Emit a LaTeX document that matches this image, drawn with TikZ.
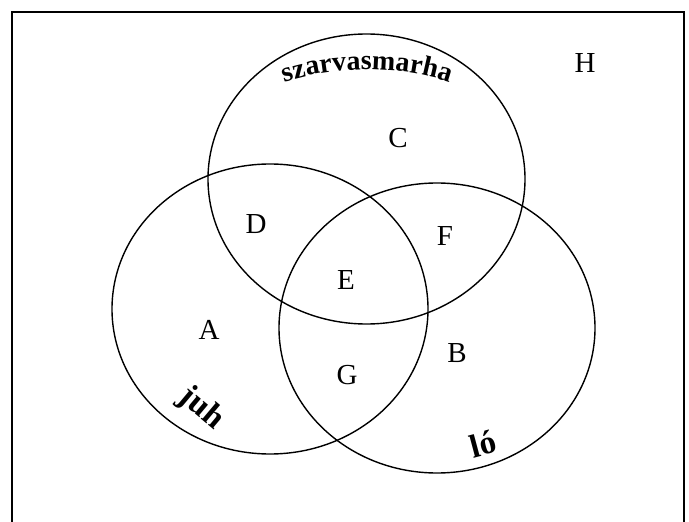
\documentclass[tikz,border=0pt]{standalone}
\usepackage{fontspec}
\setmainfont{Liberation Serif}
\usetikzlibrary{decorations.text}

\begin{document}
\begin{tikzpicture}[
  x=1pt, y=-1pt,
  frame/.style={line width=1.7pt},
  set/.style={line width=1.4pt},
  region/.style={inner sep=0pt, font=\fontsize{29}{29}\selectfont},
  setname/.style={inner sep=0pt, font=\fontsize{33}{33}\selectfont\bfseries}
]
  \useasboundingbox (0,0) rectangle (689,522);
  \draw[frame] (12,522) -- (12,12) -- (684,12) -- (684,522);
  \draw[set] (366.5,179) ellipse [x radius=158.5pt, y radius=145pt];
  \draw[set] (270,309)   ellipse [x radius=158pt, y radius=145pt];
  \draw[set] (437,328)   ellipse [x radius=158pt, y radius=145pt];
  \node[region] (h) at (585,63)  {H};
  \node[region] (c) at (398,138) {C};
  \node[region] (d) at (256,224) {D};
  \node[region] (f) at (445,236) {F};
  \node[region] (e) at (346,280) {E};
  \node[region] (a) at (209,330) {A};
  \node[region] (b) at (457,353) {B};
  \node[region] (g) at (347,375) {G};
  \path[decorate, decoration={text along path, text align=center,
    text={|\fontsize{28}{28}\selectfont\bfseries|szarvasmarha}}]
    (280,84) .. controls (330,65) and (404,65) .. (454,84);
  \node[setname, rotate=-40] (juh) at (201,409) {juh};
  \node[setname, rotate=15]  (lo)  at (483,444) {ló};
\end{tikzpicture}
\end{document}
